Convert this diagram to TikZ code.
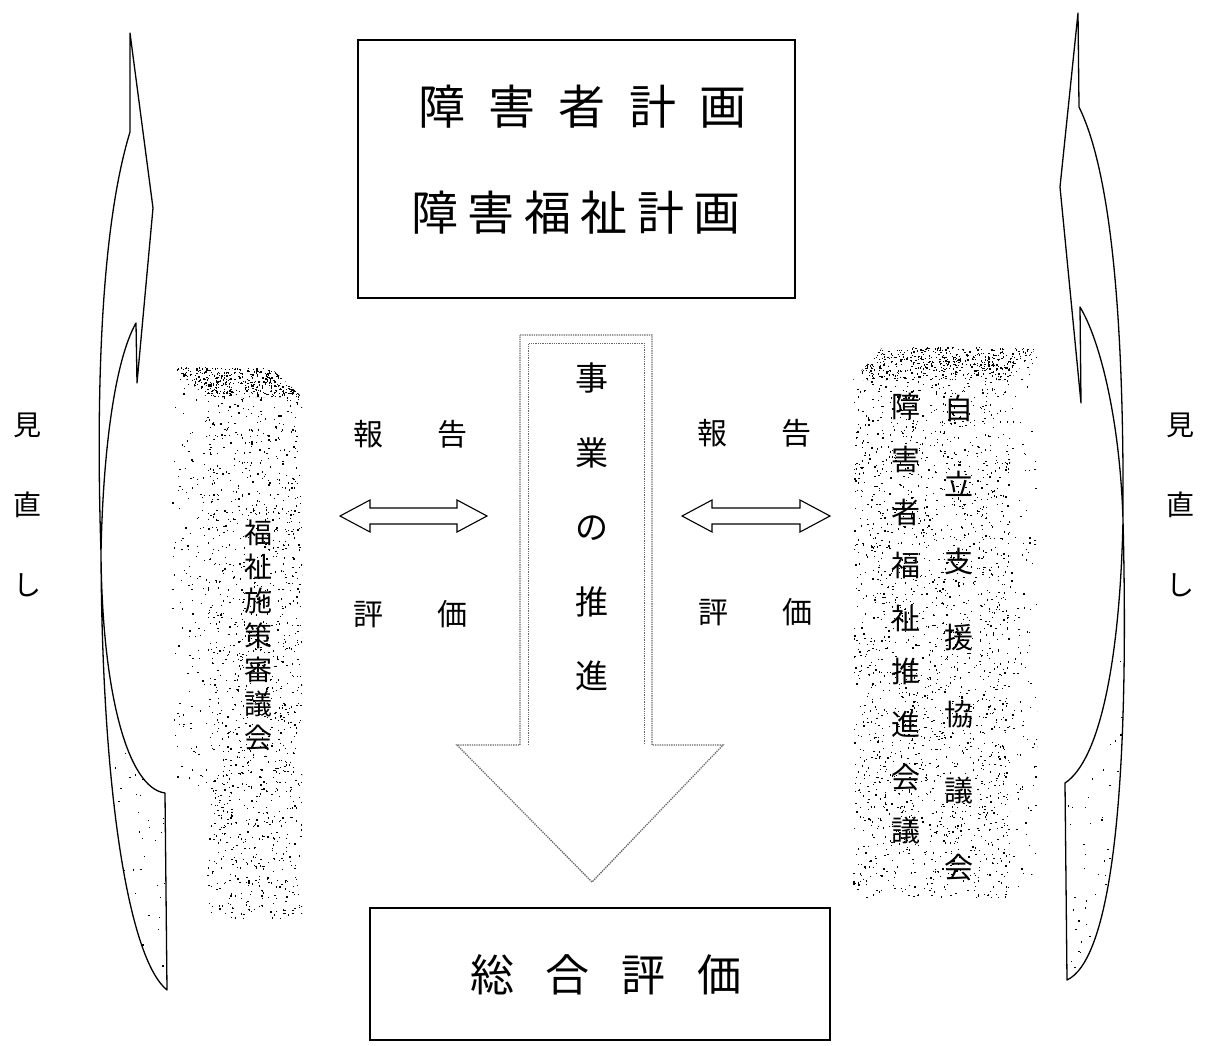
\documentclass[tikz,border=0pt]{standalone}
\usepackage{fontspec}
\setmainfont{Noto Sans CJK JP}
\newcommand\mystipple[5]{%
  \foreach \k in {1,...,#5}{%
    \pgfmathsetmacro\sx{#1+rnd*#3}%
    \pgfmathsetmacro\sy{#2+rnd*#4}%
    \fill[black] (\sx,\sy) rectangle ++(1.3,1.3);%
  }}
\begin{document}
\begin{tikzpicture}[x=1pt,y=-1pt,
  boxline/.style={draw=black,line width=1.4pt,inner sep=0pt},
  ribbon/.style={draw=black,line width=1.3pt,line join=round},
  dotline/.style={draw=black!60,line width=1.3pt,densely dotted},
  hollowarrow/.style={draw=black,line width=1.1pt,line join=miter},
  bigtext/.style={inner sep=0pt,font=\fontsize{47}{47}\selectfont},
  midtext/.style={inner sep=0pt,font=\fontsize{30}{30}\selectfont},
  vtext/.style={inner sep=0pt,align=center},
]
\pgfmathsetseed{4711}
\useasboundingbox (0,0) rectangle (1208,1045);
\fill[white] (0,0) rectangle (1208,1045);

% ---------- top box ----------
\node[boxline,minimum width=437,minimum height=258] (planbox) at (576.5,169) {};
\node[bigtext] (plan1) at (582.5,107) {障\kern23.3pt 害\kern23.3pt 者\kern23.3pt 計\kern23.3pt 画};
\node[bigtext] (plan2) at (576,213) {障\kern9.4pt 害\kern9.4pt 福\kern9.4pt 祉\kern9.4pt 計\kern9.4pt 画};

% ---------- bottom box ----------
\node[boxline,minimum width=460,minimum height=132] (evalbox) at (600,974) {};
\node[inner sep=0pt,font=\fontsize{44}{44}\selectfont] (evaltext) at (606,975) {総\kern32pt 合\kern32pt 評\kern32pt 価};

% ---------- central arrow ----------
\draw[dotline] (520,335) -- (652,335) -- (652,745) -- (723,745) -- (592,882) -- (457,745) -- (520,745) -- cycle;
\draw[dotline,line width=1pt] (528,745) -- (528,343) -- (644,343) -- (644,745);
\node[vtext,font=\fontsize{33}{74.5}\selectfont] (promo) at (592,527) {事\\業\\の\\推\\進};

% ---------- left box (3D) ----------
\begin{scope}
  \clip (207,397) rectangle (302,918);
  \mystipple{207}{397}{95}{521}{1250}
\end{scope}
\begin{scope}
  \clip (172,367) -- (270,367) -- (302,397) -- (207,397) -- cycle;
  \mystipple{172}{367}{130}{30}{550}
\end{scope}
\begin{scope}
  \clip (172,367) -- (207,397) -- (207,918) -- (172,888) -- cycle;
  \mystipple{172}{367}{35}{420}{140}
\end{scope}
\node[vtext,font=\fontsize{28}{34.2}\selectfont] (council) at (258,635.5) {福\\祉\\施\\策\\審\\議\\会};

% ---------- right box (3D) ----------
\begin{scope}
  \clip (853,380) rectangle (1010,897);
  \mystipple{853}{380}{157}{517}{2000}
\end{scope}
\begin{scope}
  \clip (883,347) -- (1037,347) -- (1010,380) -- (853,380) -- cycle;
  \mystipple{853}{347}{184}{33}{600}
\end{scope}
\begin{scope}
  \clip (1010,380) -- (1037,347) -- (1037,870) -- (1010,897) -- cycle;
  \mystipple{1010}{347}{27}{550}{110}
\end{scope}
\node[vtext,font=\fontsize{29}{52.9}\selectfont] (meeting) at (906,618.5) {障\\害\\者\\福\\祉\\推\\進\\会\\議};
\node[vtext,font=\fontsize{29}{76.5}\selectfont] (support) at (959,637.5) {自\\立\\支\\援\\協\\議\\会};

% ---------- report / evaluate double arrows ----------
\coordinate (la) at (413.5,516);
\coordinate (ra) at (756,516);
\draw[hollowarrow] (la) ++(-73.5,0) -- ++(30,-16) -- ++(0,8) -- ++(87,0) -- ++(0,-8) -- ++(30,16) -- ++(-30,16) -- ++(0,-8) -- ++(-87,0) -- ++(0,8) -- cycle;
\draw[hollowarrow] (ra) ++(-74,0) -- ++(30,-16) -- ++(0,8) -- ++(88,0) -- ++(0,-8) -- ++(30,16) -- ++(-30,16) -- ++(0,-8) -- ++(-88,0) -- ++(0,8) -- cycle;
\node[midtext] (lrep) at (410.5,434) {報\kern55pt 告};
\node[midtext] (leva) at (410.5,614) {評\kern55pt 価};
\node[midtext] (rrep) at (754.5,433) {報\kern55pt 告};
\node[midtext] (reva) at (755.5,612) {評\kern55pt 価};

% ---------- left review ribbon ----------
\begin{scope}
  \clip (165,793) .. controls (127,788) and (102,690) .. (101,553) .. controls (102,800) and (130,960) .. (167,990) -- cycle;
  \mystipple{100}{640}{68}{350}{90}
\end{scope}
\draw[ribbon] (167,990) -- (165,793) .. controls (127,788) and (102,690) .. (101,553)
  .. controls (96,400) and (100,230) .. (130,132) -- (130,33) -- (153,208) -- (137,383) -- (136,323)
  .. controls (115,360) and (103,450) .. (101,553) .. controls (102,800) and (130,960) .. (167,990) -- cycle;
\node[vtext,font=\fontsize{28}{80}\selectfont] (lreview) at (27,505) {見\\直\\し};

% ---------- right review ribbon ----------
\begin{scope}
  \clip (1065,783) .. controls (1100,760) and (1120,660) .. (1123,520) .. controls (1130,800) and (1110,960) .. (1067,980) -- cycle;
  \mystipple{1064}{620}{66}{362}{90}
\end{scope}
\draw[ribbon] (1067,980) -- (1065,783) .. controls (1100,760) and (1120,660) .. (1123,520)
  .. controls (1124,350) and (1115,180) .. (1079,107) -- (1078,13) -- (1060,187) -- (1081,403) -- (1080,307)
  .. controls (1100,340) and (1120,420) .. (1123,520) .. controls (1130,800) and (1110,960) .. (1067,980) -- cycle;
\node[vtext,font=\fontsize{28}{80}\selectfont] (rreview) at (1180,505) {見\\直\\し};
\end{tikzpicture}
\end{document}
